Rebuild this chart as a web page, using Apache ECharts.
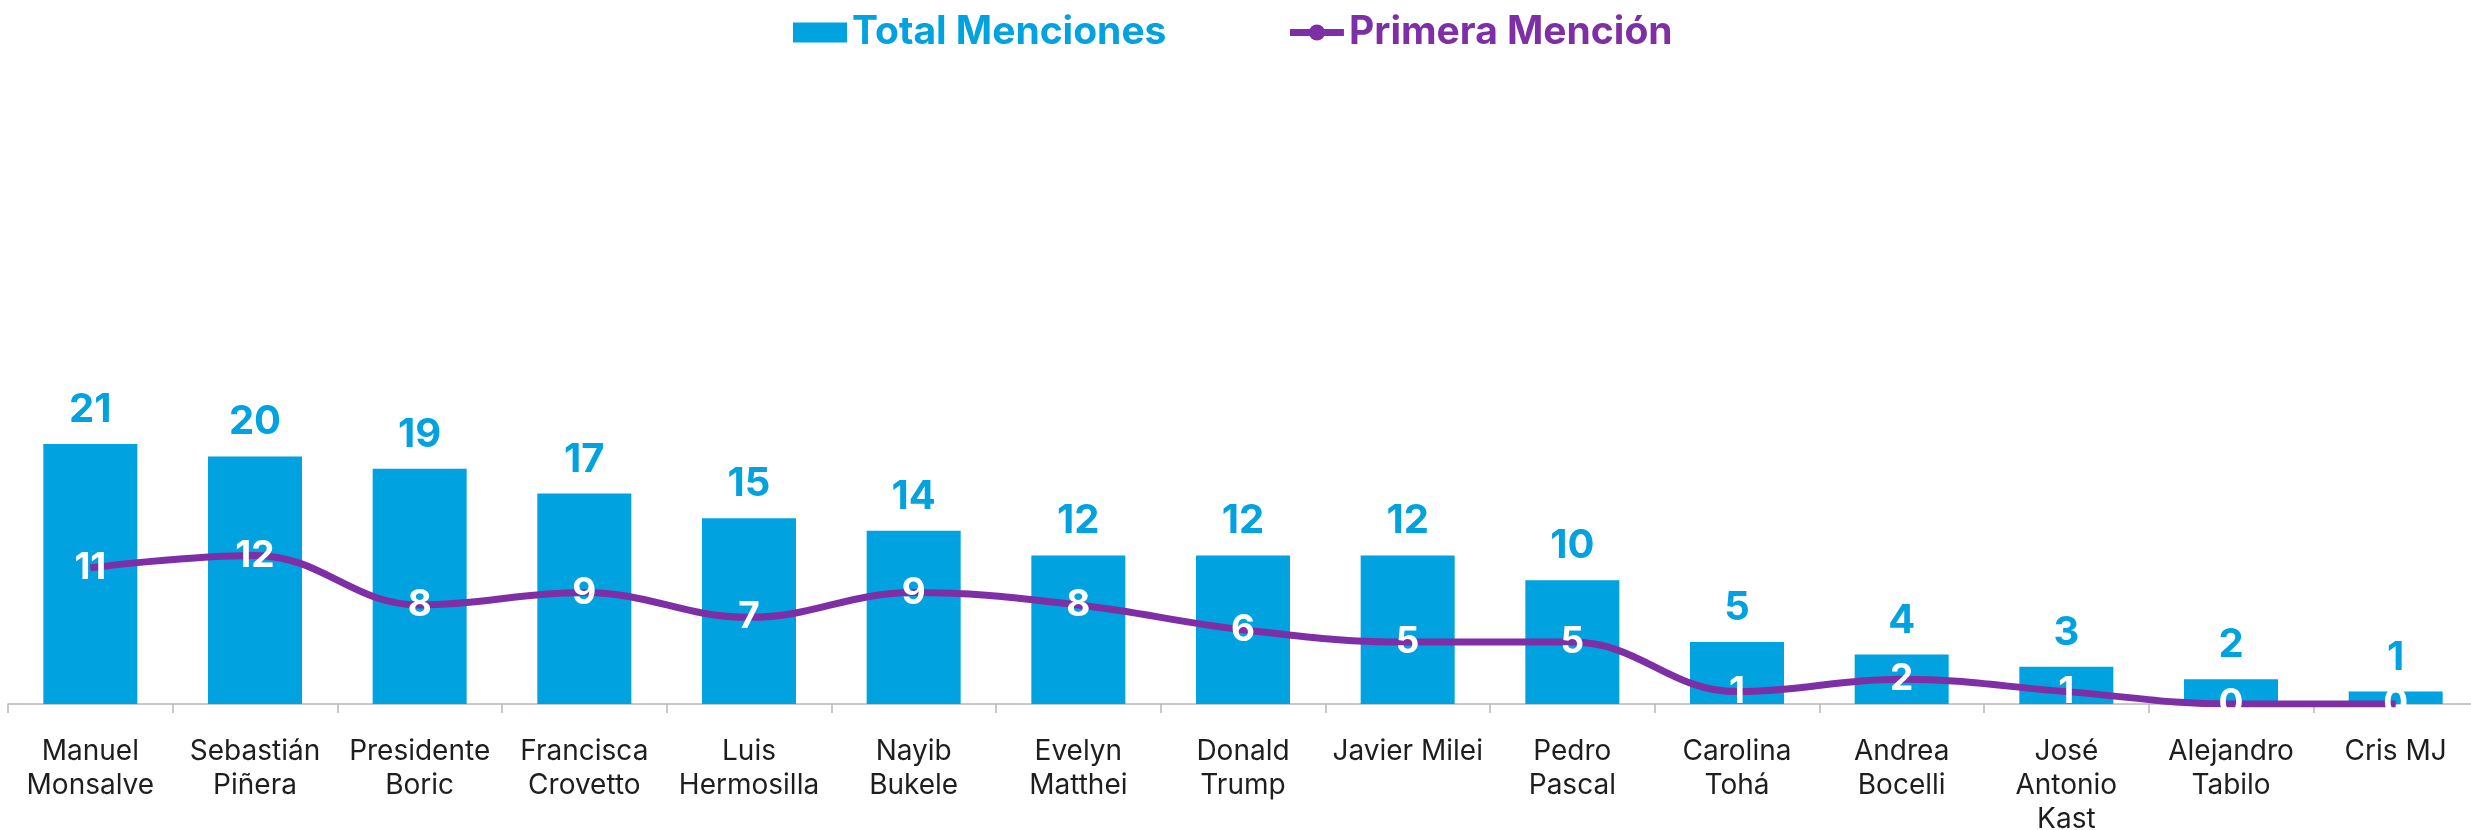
<!DOCTYPE html>
<html>
<head>
<meta charset="utf-8">
<title>Menciones</title>
<script src="https://cdn.jsdelivr.net/npm/echarts@6/dist/echarts.min.js"></script>
<style>
    html, body { margin: 0; padding: 0; background: #fff; }
    #main { width: 2471px; height: 830px; }
</style>
</head>
<body>
<div id="main"></div>
<script>
    // nombres (con saltos de linea como en el original)
    var personas = [
        'Manuel\nMonsalve', 'Sebastián\nPiñera', 'Presidente\nBoric', 'Francisca\nCrovetto',
        'Luis\nHermosilla', 'Nayib\nBukele', 'Evelyn\nMatthei', 'Donald\nTrump',
        'Javier Milei', 'Pedro\nPascal', 'Carolina\nTohá', 'Andrea\nBocelli',
        'José\nAntonio\nKast', 'Alejandro\nTabilo', 'Cris MJ'
    ];
    var totalMenciones = [21, 20, 19, 17, 15, 14, 12, 12, 12, 10, 5, 4, 3, 2, 1];
    var primeraMencion = [11, 12, 8, 9, 7, 9, 8, 6, 5, 5, 1, 2, 1, 0, 0];

    var azul = '#00A2DF';
    var morado = '#7F2FA6';
    var fuente = 'Inter, "Open Sans", sans-serif';

    var chart = echarts.init(document.getElementById('main'));

    var option = {
        animation: false,
        legend: {
            left: 788,
            top: 8,
            itemGap: 120,
            itemWidth: 54,
            itemHeight: 20,
            selectedMode: false,
            textStyle: { fontFamily: fuente, fontSize: 39, fontWeight: 'bold' },
            data: [
                { name: 'Total Menciones', icon: 'rect', textStyle: { color: azul } },
                { name: 'Primera Mención', textStyle: { color: morado }, lineStyle: { width: 7 } }
            ]
        },
        grid: {
            left: 8,
            right: -7,
            top: 85,
            bottom: 126,
            outerBoundsMode: 'none'
        },
        xAxis: {
            type: 'category',
            data: personas,
            axisLine: { lineStyle: { color: '#b8b8b8', width: 1.5 } },
            axisTick: { show: true, length: 9, lineStyle: { color: '#b8b8b8', width: 1.5 } },
            axisLabel: {
                interval: 0,
                margin: 31,
                color: '#1e1e1e',
                fontFamily: fuente,
                fontSize: 28,
                lineHeight: 34
            }
        },
        yAxis: {
            type: 'value',
            min: 0,
            max: 50,
            show: false,
            splitLine: { show: false }
        },
        series: [
            {
                name: 'Total Menciones',
                type: 'bar',
                data: totalMenciones,
                barWidth: 94,
                itemStyle: { color: azul },
                label: {
                    show: true,
                    position: 'top',
                    distance: 14,
                    color: azul,
                    fontFamily: fuente,
                    fontSize: 40,
                    fontWeight: 'bold'
                }
            },
            {
                name: 'Primera Mención',
                type: 'line',
                data: primeraMencion,
                smooth: 0.4,
                symbol: 'circle',
                symbolSize: 1,
                lineStyle: { color: morado, width: 7 },
                itemStyle: { color: morado },
                label: {
                    show: true,
                    position: 'inside',
                    color: '#fff',
                    fontFamily: fuente,
                    fontSize: 37,
                    fontWeight: 'bold'
                },
                z: 5
            }
        ]
    };
    chart.setOption(option);
</script>
</body>
</html>
